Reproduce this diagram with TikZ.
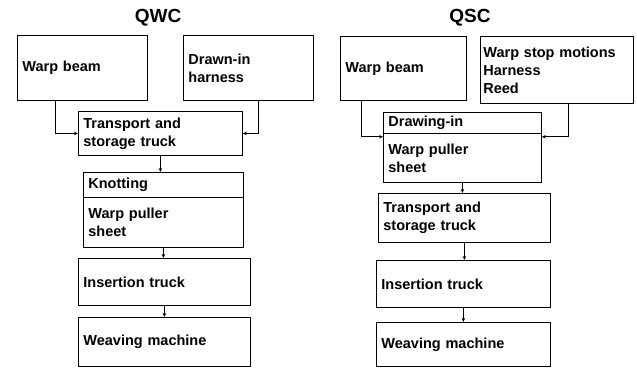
\documentclass[tikz,border=0pt]{standalone}
\usepackage{fontspec}
\setmainfont{Liberation Sans}
\usetikzlibrary{arrows.meta, positioning}
\tikzset{
    flowchart/.style={>={Stealth[length=4pt, width=3.5pt]}, line width=0.8pt, x=1pt, y=-1pt,
        font=\fontsize{14.5}{18}\selectfont\bfseries},
    box/.style={draw, anchor=north west, align=left, inner xsep=5pt, inner ysep=0pt},
    title/.style={font=\fontsize{19}{22}\selectfont\bfseries},
}
\begin{document}
\begin{tikzpicture}[flowchart]
        \useasboundingbox (0,0) rectangle (637,368);

        % QWC
        \node[title] (qwc) at (158,18) {QWC};
        \node[box, text width=120pt, minimum height=65pt] (wb1) at (17,35)  {Warp beam};
        \node[box, text width=120pt, minimum height=65pt] (dh)  at (183,35) {Drawn-in\\harness};
        \node[box, text width=154pt, minimum height=44pt] (ts1) at (78,111) {Transport and\\storage truck};
        \node[box, text width=150pt, minimum height=25pt] (kn)  at (83,172) {Knotting};
        \node[box, text width=150pt, minimum height=50pt, below=-0.8pt of kn] (wp1) {Warp puller\\sheet};
        \node[box, text width=162pt, minimum height=47pt] (in1) at (78,258) {Insertion truck};
        \node[box, text width=162pt, minimum height=49pt] (wm1) at (78,317) {Weaving machine};

        \draw[->] ([xshift=38pt]wb1.south west) |- (ts1);
        \draw[->] ([xshift=75pt]dh.south west) |- (ts1);
        \draw[->] (ts1.south) -- (ts1.south |- kn.north);
        \draw[->] (wp1.south) -- (wp1.south |- in1.north);
        \draw[->] (in1) -- (wm1);

        % QSC
        \node[title] (qsc) at (470,18) {QSC};
        \node[box, text width=116pt, minimum height=64pt] (wb2) at (340,36) {Warp beam};
        \node[box, text width=147pt, minimum height=67pt, inner xsep=3pt] (ws) at (480,36) {Warp stop motions\\Harness\\Reed};
        \node[box, text width=148pt, minimum height=21pt] (dr)  at (383,112) {Drawing-in};
        \node[box, text width=148pt, minimum height=49pt, below=-0.8pt of dr] (wp2) {Warp puller\\sheet};
        \node[box, text width=162pt, minimum height=49pt] (ts2) at (378,193) {Transport and\\storage truck};
        \node[box, text width=164pt, minimum height=47pt] (in2) at (376,260) {Insertion truck};
        \node[box, text width=164pt, minimum height=44pt] (wm2) at (376,322) {Weaving machine};

        \draw[->] ([xshift=21pt]wb2.south west) |- ([yshift=-3pt]dr.south west);
        \draw[->] ([xshift=88pt]ws.south west) |- ([yshift=-3pt]dr.south east);
        \draw[->] (wp2.south) -- (wp2.south |- ts2.north);
        \draw[->] (ts2.south) -- (ts2.south |- in2.north);
        \draw[->] (in2) -- (wm2);
\end{tikzpicture}
\end{document}
